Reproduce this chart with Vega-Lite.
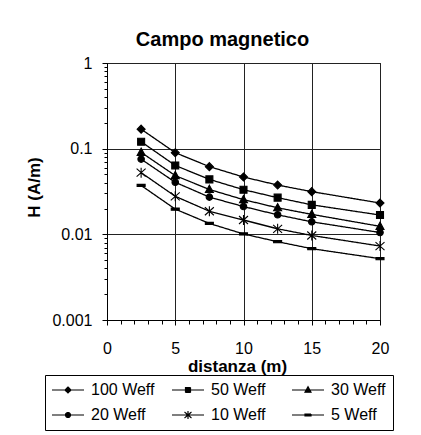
{
  "$schema": "https://vega.github.io/schema/vega-lite/v6.json",
  "width": 273,
  "height": 257,
  "autosize": {"type": "none"},
  "padding": {"left": 107, "top": 63, "right": 41, "bottom": 115},
  "background": "white",
  "config": {
    "font": "Liberation Sans",
    "view": {"stroke": "black", "strokeWidth": 1}
  },
  "title": {"text": "Campo magnetico", "fontSize": 20, "fontWeight": "bold", "color": "black", "anchor": "middle", "frame": "group", "dx": -21, "dy": 27, "offset": 16, "baseline": "alphabetic"},
  "data": {"values": [
    {"x": 2.5, "H": 0.169, "serie": "100 Weff"},
    {"x": 5, "H": 0.0898, "serie": "100 Weff"},
    {"x": 7.5, "H": 0.0617, "serie": "100 Weff"},
    {"x": 10, "H": 0.0467, "serie": "100 Weff"},
    {"x": 12.5, "H": 0.0376, "serie": "100 Weff"},
    {"x": 15, "H": 0.0315, "serie": "100 Weff"},
    {"x": 20, "H": 0.0232, "serie": "100 Weff"},
    {"x": 2.5, "H": 0.1205, "serie": "50 Weff"},
    {"x": 5, "H": 0.0637, "serie": "50 Weff"},
    {"x": 7.5, "H": 0.0438, "serie": "50 Weff"},
    {"x": 10, "H": 0.0332, "serie": "50 Weff"},
    {"x": 12.5, "H": 0.0268, "serie": "50 Weff"},
    {"x": 15, "H": 0.0221, "serie": "50 Weff"},
    {"x": 20, "H": 0.0168, "serie": "50 Weff"},
    {"x": 2.5, "H": 0.0905, "serie": "30 Weff"},
    {"x": 5, "H": 0.0485, "serie": "30 Weff"},
    {"x": 7.5, "H": 0.0334, "serie": "30 Weff"},
    {"x": 10, "H": 0.0254, "serie": "30 Weff"},
    {"x": 12.5, "H": 0.0204, "serie": "30 Weff"},
    {"x": 15, "H": 0.0171, "serie": "30 Weff"},
    {"x": 20, "H": 0.0124, "serie": "30 Weff"},
    {"x": 2.5, "H": 0.0755, "serie": "20 Weff"},
    {"x": 5, "H": 0.0405, "serie": "20 Weff"},
    {"x": 7.5, "H": 0.0272, "serie": "20 Weff"},
    {"x": 10, "H": 0.0211, "serie": "20 Weff"},
    {"x": 12.5, "H": 0.0169, "serie": "20 Weff"},
    {"x": 15, "H": 0.014, "serie": "20 Weff"},
    {"x": 20, "H": 0.0105, "serie": "20 Weff"},
    {"x": 2.5, "H": 0.0525, "serie": "10 Weff"},
    {"x": 5, "H": 0.0278, "serie": "10 Weff"},
    {"x": 7.5, "H": 0.0186, "serie": "10 Weff"},
    {"x": 10, "H": 0.0147, "serie": "10 Weff"},
    {"x": 12.5, "H": 0.0116, "serie": "10 Weff"},
    {"x": 15, "H": 0.0097, "serie": "10 Weff"},
    {"x": 20, "H": 0.0073, "serie": "10 Weff"},
    {"x": 2.5, "H": 0.0372, "serie": "5 Weff"},
    {"x": 5, "H": 0.0197, "serie": "5 Weff"},
    {"x": 7.5, "H": 0.0134, "serie": "5 Weff"},
    {"x": 10, "H": 0.0101, "serie": "5 Weff"},
    {"x": 12.5, "H": 0.0082, "serie": "5 Weff"},
    {"x": 15, "H": 0.0068, "serie": "5 Weff"},
    {"x": 20, "H": 0.0052, "serie": "5 Weff"}
  ]},
  "layer": [
    {
      "mark": {"type": "line", "color": "black", "strokeWidth": 1.3},
      "encoding": {
        "x": {"field": "x", "type": "quantitative", "scale": {"domain": [0, 20], "nice": false, "zero": false},
          "axis": {"orient": "bottom", "values": [0, 5, 10, 15, 20], "grid": true, "gridColor": "#222", "gridOpacity": 1, "gridWidth": 1,
            "tickSize": 5, "tickColor": "black", "domainColor": "black", "labelFontSize": 16, "labelColor": "black", "labelPadding": 15, "labelFlush": false,
            "title": "distanza (m)", "titleFontSize": 17, "titleFontWeight": "bold", "titleColor": "black", "titleX": 130, "titleY": 51, "titleBaseline": "alphabetic", "titleAlign": "center"}},
        "y": {"field": "H", "type": "quantitative", "scale": {"type": "log", "domain": [0.001, 1], "nice": false},
          "axis": {"orient": "left", "values": [0.001, 0.01, 0.1, 1], "format": "~g", "grid": true, "gridColor": "#222", "gridOpacity": 1, "gridWidth": 1,
            "tickSize": 5, "tickColor": "black", "domainColor": "black", "labelFontSize": 16, "labelColor": "black", "labelPadding": 10, "labelFlush": false,
            "title": "H (A/m)", "titleFontSize": 17, "titleFontWeight": "bold", "titleColor": "black", "titleX": -73, "titleY": 124, "titleBaseline": "middle", "titleAlign": "center", "titleAngle": -90}},
        "strokeDash": {"field": "serie", "type": "nominal",
          "scale": {"domain": ["100 Weff", "50 Weff", "30 Weff", "20 Weff", "10 Weff", "5 Weff"], "range": [[1, 0], [1, 0], [1, 0], [1, 0], [1, 0], [1, 0]]},
          "legend": {"orient": "none", "legendX": -62, "legendY": 312, "direction": "horizontal", "columns": 3, "title": null, "gridAlign": "all",
            "strokeColor": "black", "padding": 7, "labelFontSize": 16, "labelColor": "black", "labelOffset": 15, "columnPadding": 14, "rowPadding": 9,
            "symbolSize": 100, "symbolOffset": 8, "symbolStrokeColor": "black", "symbolFillColor": "black", "symbolStrokeWidth": 1.2, "symbolOpacity": 1,
            "encoding": {"symbols": {
              "shape": {"value": {"expr": "datum.value === '100 Weff' ? 'M-3.2,0L3.2,0M0,-0.6L0.6,0L0,0.6L-0.6,0Z' : datum.value === '50 Weff' ? 'M-3.2,0L3.2,0M-0.5,-0.5L0.5,-0.5L0.5,0.5L-0.5,0.5Z' : datum.value === '30 Weff' ? 'M-3.2,0L3.2,0M0,-0.65L0.6,0.45L-0.6,0.45Z' : datum.value === '20 Weff' ? 'M-3.2,0L3.2,0M0.5,0A0.5,0.5 0 1,1 -0.5,0A0.5,0.5 0 1,1 0.5,0Z' : datum.value === '10 Weff' ? 'M-3.2,0L3.2,0M0,-0.8L0,0.8M-0.7,-0.6L0.7,0.6M-0.7,0.6L0.7,-0.6' : 'M-3.2,0L3.2,0M-0.6,-0.18L0.6,-0.18L0.6,0.18L-0.6,0.18Z'"}},
              "fill": {"value": "black"}, "fillOpacity": {"value": 1}, "stroke": {"value": "black"}, "strokeWidth": {"value": 1.2}, "strokeOpacity": {"value": 1}, "opacity": {"value": 1}}}}},
        "detail": {"field": "serie", "type": "nominal"}
      }
    },
    {
      "mark": {"type": "point", "filled": true, "fill": "black", "stroke": "black", "strokeWidth": 1.1, "size": 100, "opacity": 1},
      "encoding": {
        "x": {"field": "x", "type": "quantitative",
          "axis": {"orient": "bottom", "values": [1, 2, 3, 4, 6, 7, 8, 9, 11, 12, 13, 14, 16, 17, 18, 19], "labels": false, "domain": false, "grid": false, "tickSize": 4, "tickColor": "black", "title": null}},
        "y": {"field": "H", "type": "quantitative",
          "axis": {"orient": "left", "values": [0.002, 0.003, 0.004, 0.005, 0.006, 0.007, 0.008, 0.009, 0.02, 0.03, 0.04, 0.05, 0.06, 0.07, 0.08, 0.09, 0.2, 0.3, 0.4, 0.5, 0.6, 0.7, 0.8, 0.9], "labels": false, "domain": false, "grid": false, "tickSize": 3, "tickColor": "black", "title": null}},
        "shape": {"field": "serie", "type": "nominal",
          "sort": ["100 Weff", "50 Weff", "30 Weff", "20 Weff", "10 Weff", "5 Weff"],
          "scale": {"range": ["M0,-0.8L0.8,0L0,0.8L-0.8,0Z", "M-0.7,-0.7L0.7,-0.7L0.7,0.7L-0.7,0.7Z", "M0,-0.85L0.8,0.6L-0.8,0.6Z", "M0.65,0A0.65,0.65 0 1,1 -0.65,0A0.65,0.65 0 1,1 0.65,0Z", "M0,-1L0,1M-0.9,-0.8L0.9,0.8M-0.9,0.8L0.9,-0.8", "M-0.8,-0.22L0.8,-0.22L0.8,0.22L-0.8,0.22Z"]},
          "legend": null}
      }
    }
  ],
  "resolve": {"axis": {"x": "independent", "y": "independent"}}
}
